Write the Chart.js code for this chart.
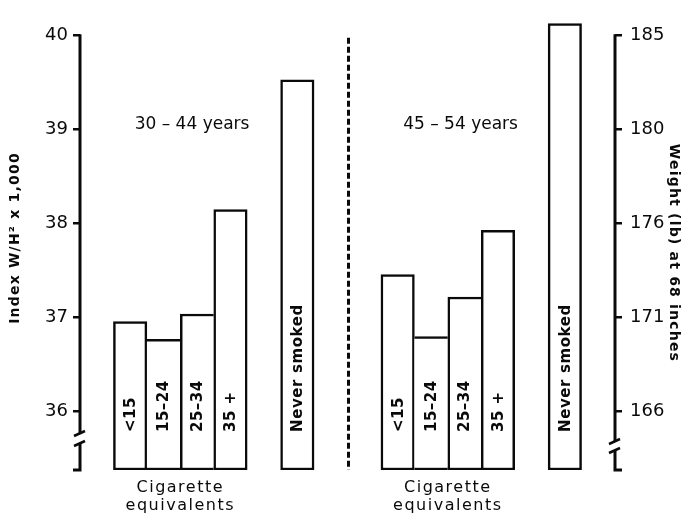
<!DOCTYPE html>
<html lang="en">
<head>
  <meta charset="UTF-8">
  <title>Index W/H2 by cigarette equivalents</title>
  <script src="https://cdn.jsdelivr.net/npm/chart.js"></script>
  <style>
    html, body { margin: 0; padding: 0; background: #fff; }
    #wrap { width: 681px; height: 514px; }
  </style>
</head>
<body>
  <div id="wrap"><canvas id="chart" width="681" height="514"></canvas></div>
  <script>
    const smokingGroups = ['<15', '15–24', '25–34', '35 +'];
    const neverLabel = 'Never smoked';
    const ageGroups = ['30 – 44 years', '45 – 54 years'];
    const index3044 = [36.96, 36.77, 37.04, 38.15];
    const never3044 = 39.53;
    const index4554 = [37.46, 36.80, 37.22, 37.93];
    const never4554 = 40.13;
    const indexTicks = [36, 37, 38, 39, 40];
    const weightTicks = ['166', '171', '176', '180', '185'];
    const axisMin = 35.38;
    const axisMax = 40.18;

    // 8 slots per age group: gap, 4 smoking bars, gap, never smoked, gap
    const slots = [];
    const values = [];
    function addGroup(vals, never) {
      slots.push(''); values.push(null);
      smokingGroups.forEach((g, i) => { slots.push(g); values.push([axisMin, vals[i]]); });
      slots.push(''); values.push(null);
      slots.push(neverLabel); values.push([axisMin, never]);
      slots.push(''); values.push(null);
    }
    addGroup(index3044, never3044);
    addGroup(index4554, never4554);

    function topOf(i) {
      const v = values[i];
      return v ? v[1] : null;
    }

    const FONT = '"DejaVu Sans", sans-serif';
    const INK = '#0a0a0a';

    function drawText(ctx, text, x, y, opts) {
      ctx.save();
      ctx.translate(x, y);
      ctx.rotate(opts.rotate || 0);
      ctx.font = opts.font;
      ctx.letterSpacing = opts.spacing || '0px';
      ctx.fillStyle = INK;
      ctx.textAlign = opts.align || 'center';
      ctx.textBaseline = 'middle';
      ctx.fillText(text, 0, 0);
      ctx.restore();
    }

    const extras = {
      id: 'extras',
      afterDatasetsDraw(chart) {
        const ctx = chart.ctx;
        const xs = chart.scales.x;
        const ys = chart.scales.y;
        const area = chart.chartArea;
        const top = ys.getPixelForValue(40);
        const bottom = area.bottom;

        ctx.save();
        ctx.strokeStyle = INK;
        ctx.lineWidth = 3;
        ctx.lineCap = 'butt';

        // left axis with break
        let ax = area.left;
        ctx.beginPath();
        ctx.moveTo(ax, top - 1.5); ctx.lineTo(ax, bottom - 37);
        ctx.moveTo(ax, bottom - 26); ctx.lineTo(ax, bottom);
        ctx.lineTo(ax - 7, bottom);
        ctx.stroke();
        ctx.lineWidth = 2.5;
        ctx.beginPath();
        ctx.moveTo(ax - 6, bottom - 34); ctx.lineTo(ax + 5, bottom - 39);
        ctx.moveTo(ax - 6, bottom - 24); ctx.lineTo(ax + 5, bottom - 29);
        ctx.stroke();

        // right axis with break
        ax = area.right;
        ctx.lineWidth = 3;
        ctx.beginPath();
        ctx.moveTo(ax, top - 1.5); ctx.lineTo(ax, bottom - 29);
        ctx.moveTo(ax, bottom - 20); ctx.lineTo(ax, bottom);
        ctx.lineTo(ax + 7, bottom);
        ctx.stroke();
        ctx.lineWidth = 2.5;
        ctx.beginPath();
        ctx.moveTo(ax - 6, bottom - 26); ctx.lineTo(ax + 5, bottom - 31);
        ctx.moveTo(ax - 6, bottom - 17); ctx.lineTo(ax + 5, bottom - 22);
        ctx.stroke();

        // dashed divider between the age groups
        const dx = (xs.getPixelForValue(7) + xs.getPixelForValue(8)) / 2 + 1;
        ctx.lineWidth = 3;
        ctx.setLineDash([6, 3]);
        ctx.beginPath();
        ctx.moveTo(dx, top + 2);
        ctx.lineTo(dx, bottom);
        ctx.stroke();
        ctx.setLineDash([]);
        ctx.restore();

        // labels inside bars
        const meta = chart.getDatasetMeta(0);
        meta.data.forEach((bar, i) => {
          if (!slots[i]) return;
          const isNever = slots[i] === neverLabel;
          drawText(ctx, slots[i], bar.x + 1, bottom - 38, {
            rotate: -Math.PI / 2, align: 'left',
            font: 'bold 15px ' + FONT, spacing: isNever ? '0.6px' : '0.5px'
          });
        });

        // age group titles
        const ty = ys.getPixelForValue(39.05);
        drawText(ctx, ageGroups[0], xs.getPixelForValue(3) - 5, ty, { font: '17px ' + FONT, spacing: '0px' });
        drawText(ctx, ageGroups[1], xs.getPixelForValue(11) - 4, ty, { font: '17px ' + FONT, spacing: '0px' });

        // group captions under the smoking bars
        [2.5, 10.5].forEach(c => {
          const cx = (xs.getPixelForValue(Math.floor(c)) + xs.getPixelForValue(Math.ceil(c))) / 2;
          drawText(ctx, 'Cigarette', cx, bottom + 18, { font: '16px ' + FONT, spacing: '1.5px' });
          drawText(ctx, 'equivalents', cx, bottom + 36, { font: '16px ' + FONT, spacing: '1.5px' });
        });

        // axis titles
        drawText(ctx, 'Index W/H² x 1,000', 15, 238, {
          rotate: -Math.PI / 2, font: 'bold 14px ' + FONT, spacing: '1.2px'
        });
        drawText(ctx, 'Weight (lb) at 68 inches', 674, 253, {
          rotate: Math.PI / 2, font: 'bold 14px ' + FONT, spacing: '1.2px'
        });
      }
    };

    const tickFont = { family: FONT, size: 18 };

    new Chart(document.getElementById('chart'), {
      type: 'bar',
      data: {
        labels: slots,
        datasets: [{
          data: values,
          backgroundColor: '#fff',
          borderColor: INK,
          borderSkipped: false,
          borderWidth: ctx => {
            const i = ctx.dataIndex;
            const me = topOf(i);
            if (me == null) return 0;
            const prev = topOf(i - 1);
            const next = topOf(i + 1);
            return {
              top: 2.5,
              bottom: 2.5,
              left: (prev == null || me > prev) ? 2.5 : 0,
              right: (next == null || me >= next) ? 2.5 : 0
            };
          },
          barPercentage: 1,
          categoryPercentage: 1
        }]
      },
      options: {
        responsive: false,
        animation: false,
        layout: { padding: { top: 16, bottom: 44, left: 0, right: 0 } },
        plugins: {
          legend: { display: false },
          tooltip: { enabled: false }
        },
        scales: {
          x: { display: false },
          y: {
            position: 'left',
            min: axisMin,
            max: axisMax,
            afterBuildTicks: axis => { axis.ticks = indexTicks.map(v => ({ value: v })); },
            afterFit: axis => { axis.width = 80; },
            border: { display: false },
            grid: { drawOnChartArea: false, color: INK, lineWidth: 2.5, tickLength: 7 },
            ticks: { color: INK, font: tickFont, padding: 5 }
          },
          y2: {
            position: 'right',
            min: axisMin,
            max: axisMax,
            afterBuildTicks: axis => { axis.ticks = indexTicks.map(v => ({ value: v })); },
            afterFit: axis => { axis.width = 66; },
            border: { display: false },
            grid: { drawOnChartArea: false, color: INK, lineWidth: 2.5, tickLength: 7 },
            ticks: {
              color: INK, font: tickFont, padding: 8,
              callback: (value, index) => weightTicks[index]
            }
          }
        }
      },
      plugins: [extras]
    });
  </script>
</body>
</html>
